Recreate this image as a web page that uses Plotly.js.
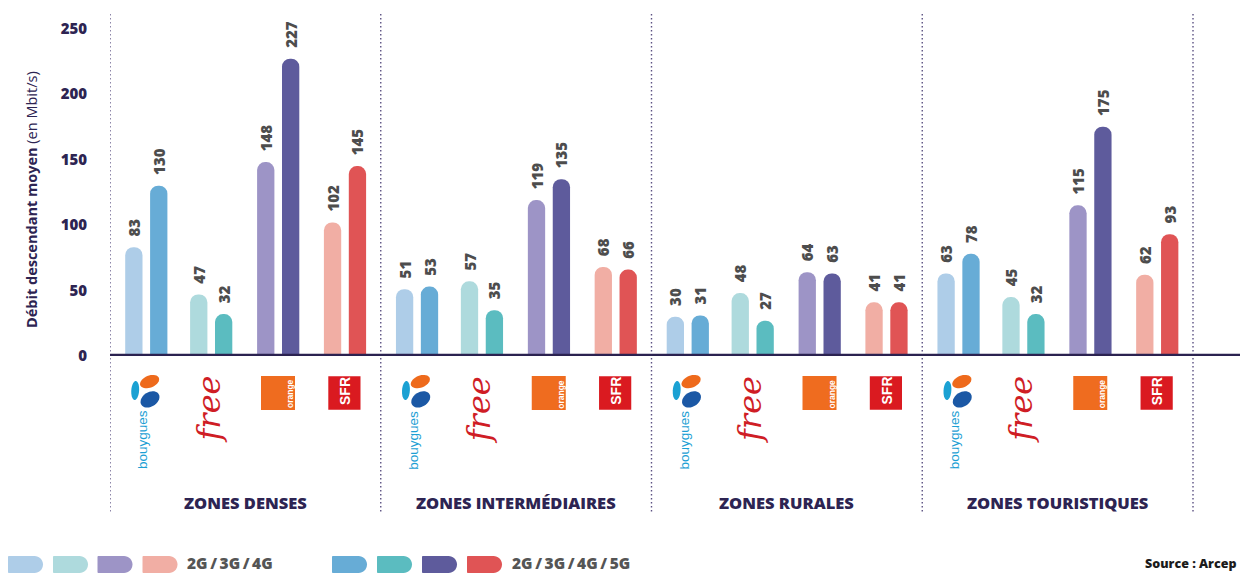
<!DOCTYPE html>
<html><head><meta charset="utf-8">
<script src="https://cdn.plot.ly/plotly-3.0.1.min.js"></script>
<style>html,body{margin:0;padding:0;background:#fff}#chart{width:1240px;height:573px}</style>
</head><body><div id="chart"></div>
<script>
// ---------- DATA ----------
const zones = ['ZONES DENSES', 'ZONES INTERMÉDIAIRES', 'ZONES RURALES', 'ZONES TOURISTIQUES'];
const operators = ['Bouygues', 'Free', 'Orange', 'SFR'];
const seriesNames = ['2G/3G/4G', '2G/3G/4G/5G'];
// values in zone order, operators Bouygues, Free, Orange, SFR within each zone
const values4G = [83, 47, 148, 102,   51, 57, 119, 68,   30, 48, 64, 41,   63, 45, 115, 62];
const values5G = [130, 32, 227, 145,  53, 35, 135, 66,   31, 27, 63, 41,   78, 32, 175, 93];
const colors4G = ['#aecde8', '#aedadd', '#9d94c6', '#f1aea4'];
const colors5G = ['#67acd6', '#5bbcc0', '#5e5b9c', '#e05455'];
const yTicks = [0, 50, 100, 150, 200, 250];
const sourceText = 'Source : Arcep';

// ---------- GEOMETRY ----------
const W = 1240, H = 573, LEFT = 110, ZONE_W = 270.75;
const OP_CENTER = [36.3, 101.2, 168.2, 235.0];
const HALF = 12.45, BAR_W = 17.3;
const PX_PER_UNIT = 1.31, Y0_PX = 356, YMAX = 260;
const NAVY = '#2d2452';
const FONT = 'Open Sans, Noto Sans, sans-serif';
const px = x => x / W;
const py = y => 1 - y / H;

const xs4G = [], xs5G = [], c4 = [], c5 = [];
zones.forEach((z, zi) => operators.forEach((o, oi) => {
  xs4G.push(zi + (OP_CENTER[oi] - HALF) / ZONE_W);
  xs5G.push(zi + (OP_CENTER[oi] + HALF) / ZONE_W);
  c4.push(colors4G[oi]); c5.push(colors5G[oi]);
}));

const textStyle = {family: FONT, size: 15, color: '#4d4d4d', weight: 800};
function barTrace(name, x, y, colors) {
  return {
    type: 'bar', name, x, y, width: BAR_W / ZONE_W,
    marker: {color: colors, cornerradius: '50%', line: {width: 0}},
    texttemplate: '\u00a0\u00a0%{y}', textposition: 'outside', textangle: -90,
    constraintext: 'none', cliponaxis: false, textfont: textStyle,
    hoverinfo: 'skip', showlegend: false
  };
}
const traces = [barTrace(seriesNames[0], xs4G, values4G, c4), barTrace(seriesNames[1], xs5G, values5G, c5)];

// ---------- DECORATION ----------
const shapes = [], annotations = [];
function note(x, y, text, font, extra) {
  annotations.push(Object.assign({xref: 'paper', yref: 'paper', x: px(x), y: py(y), text, font,
    showarrow: false, xanchor: 'center', yanchor: 'middle'}, extra || {}));
}
// dotted zone separators
for (let i = 0; i <= zones.length; i++) {
  shapes.push({type: 'line', xref: 'x', yref: 'paper', x0: i, x1: i, y0: py(14), y1: py(512),
    line: {color: '#5c5283', width: 1.4, dash: '1.4px,2.6px'}, layer: 'below'});
}
// baseline
shapes.push({type: 'line', xref: 'paper', yref: 'y', x0: px(LEFT), x1: 1, y0: 0, y1: 0,
  line: {color: '#2b2250', width: 4.5}, layer: 'above'});

function ellipsePath(cx, cy, rx, ry, angDeg) {
  const a = angDeg * Math.PI / 180, pts = [];
  for (let k = 0; k < 36; k++) {
    const t = k / 36 * 2 * Math.PI;
    const ex = rx * Math.cos(t), ey = ry * Math.sin(t);
    const X = cx + ex * Math.cos(a) - ey * Math.sin(a);
    const Y = cy + ex * Math.sin(a) + ey * Math.cos(a);
    pts.push((k ? 'L' : 'M') + px(X).toFixed(5) + ',' + py(Y).toFixed(5));
  }
  return pts.join(' ') + ' Z';
}
function rectShape(x0, y0, x1, y1, color) {
  return {type: 'rect', xref: 'paper', yref: 'paper', x0: px(x0), x1: px(x1), y0: py(y1), y1: py(y0),
    fillcolor: color, line: {width: 0}};
}
function pillPath(x0, y0, x1, y1) {
  const r = (y1 - y0) / 2, k = 0.5523 * r, yc = (y0 + y1) / 2, xr = x1 - r;
  const P = (x, y) => px(x).toFixed(5) + ',' + py(y).toFixed(5);
  return 'M' + P(x0 + 2, y0) + ' L' + P(xr, y0) + ' C' + P(xr + k, y0) + ' ' + P(x1, yc - k) + ' ' + P(x1, yc) +
    ' C' + P(x1, yc + k) + ' ' + P(xr + k, y1) + ' ' + P(xr, y1) + ' L' + P(x0 + 2, y1) +
    ' C' + P(x0, y1) + ' ' + P(x0, y1) + ' ' + P(x0, y1 - 2) + ' L' + P(x0, y0 + 2) +
    ' C' + P(x0, y0) + ' ' + P(x0, y0) + ' ' + P(x0 + 2, y0) + ' Z';
}

zones.forEach((z, zi) => {
  const b = LEFT + zi * ZONE_W;
  // Bouygues
  shapes.push({type: 'path', xref: 'paper', yref: 'paper', path: ellipsePath(b + 25.2, 390.5, 3.9, 9.5, 4), fillcolor: '#1ba1d3', line: {width: 0}});
  shapes.push({type: 'path', xref: 'paper', yref: 'paper', path: ellipsePath(b + 39.6, 381.6, 10, 6, -22), fillcolor: '#ee6a1c', line: {width: 0}});
  shapes.push({type: 'path', xref: 'paper', yref: 'paper', path: ellipsePath(b + 40, 399.4, 10.2, 7.2, -32), fillcolor: '#1b58a5', line: {width: 0}});
  note(b + 32, 440, 'bouygues', {family: 'Liberation Sans Narrow, Liberation Sans, sans-serif', size: 13.5, color: '#1ca0d4', weight: 400}, {textangle: -90});
  // Free
  note(b + 99, 409.5, 'free', {family: 'DejaVu Serif, serif', size: 32, color: '#cf1d25', style: 'italic', weight: 400}, {textangle: -90});
  // Orange
  shapes.push(rectShape(b + 151, 376, b + 185, 410, '#ef6c1f'));
  note(b + 180, 394, 'orange', {family: 'Liberation Sans, sans-serif', size: 8.5, color: '#ffffff', weight: 700}, {textangle: -90});
  // SFR
  shapes.push(rectShape(b + 218.3, 376.3, b + 250.5, 409.7, '#da1a20'));
  note(b + 235, 391, 'SFR', {family: 'Liberation Sans, sans-serif', size: 14, color: '#ffffff', weight: 700}, {textangle: -90});
  // zone label
  note(b + ZONE_W / 2, 502, z, {family: FONT, size: 16.5, color: NAVY, weight: 800});
});

// legend pills
const pillX = [[8, 53, 97.5, 142.5], [332, 377, 422, 467]];
const textX = [185, 510];
[colors4G, colors5G].forEach((cols, g) => {
  cols.forEach((c, i) => shapes.push({type: 'path', xref: 'paper', yref: 'paper',
    path: pillPath(pillX[g][i], 556, pillX[g][i] + 35, 573), fillcolor: c, line: {width: 0}}));
  note(textX[g], 563, seriesNames[g].split('/').join('\u2009/\u2009'),
    {family: FONT, size: 15.5, color: '#555555', weight: 800}, {xanchor: 'left'});
});

// y-axis title
note(31, 200, '<b>Débit descendant moyen</b> (en Mbit/s)', {family: FONT, size: 14.5, color: NAVY}, {textangle: -90});
// source
note(1143, 563, sourceText, {family: FONT, size: 12.5, color: '#1b1b1b', weight: 800}, {xanchor: 'left'});

const yTop = Y0_PX - YMAX * PX_PER_UNIT;
const layout = {
  width: W, height: H, margin: {l: 0, r: 0, t: 0, b: 0}, paper_bgcolor: '#fff', plot_bgcolor: 'rgba(0,0,0,0)',
  showlegend: false, barmode: 'overlay',
  xaxis: {domain: [px(LEFT), 1], range: [0, (W - LEFT) / ZONE_W], showgrid: false, zeroline: false,
    showticklabels: false, ticks: '', fixedrange: true},
  yaxis: {domain: [1 - Y0_PX / H, 1 - yTop / H], range: [0, YMAX], tickvals: yTicks, ticktext: yTicks.map(String),
    showgrid: false, zeroline: false, showline: false, ticks: '', ticklabelstandoff: 22,
    tickfont: {family: FONT, size: 15, color: NAVY, weight: 800}, fixedrange: true},
  shapes, annotations
};
Plotly.newPlot('chart', traces, layout, {displayModeBar: false, staticPlot: true});
</script></body></html>
